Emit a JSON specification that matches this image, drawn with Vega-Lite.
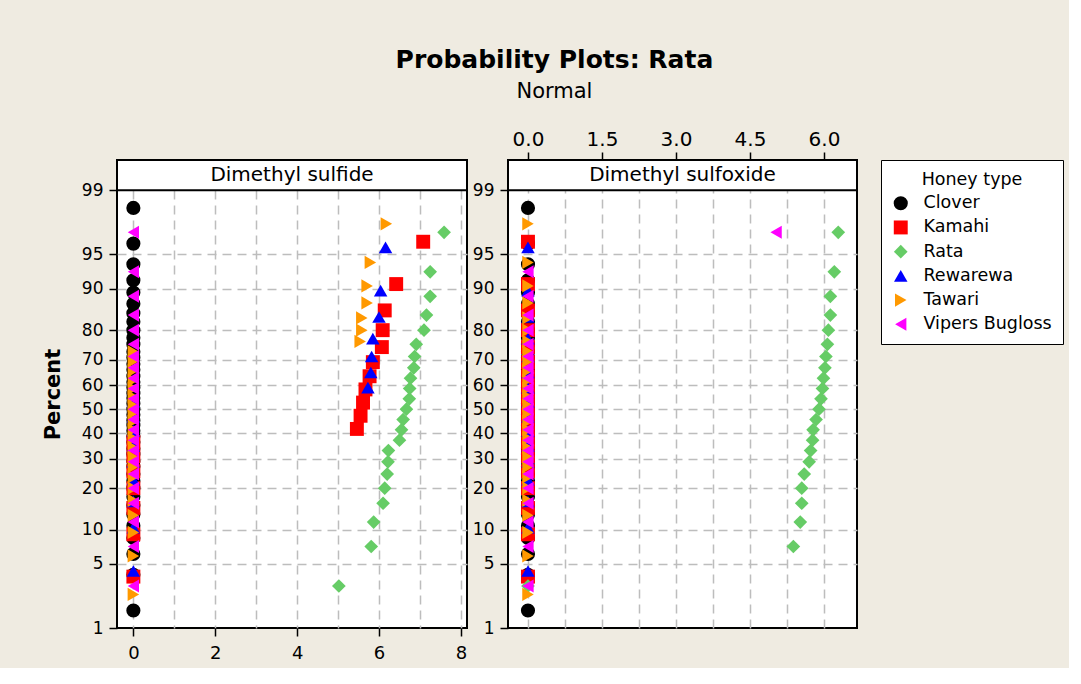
{
  "$schema": "https://vega.github.io/schema/vega-lite/v6.json",
  "background": "#EFEBE1",
  "padding": {"left": 41, "top": 48, "right": 5, "bottom": 5},
  "title": {
    "text": "Probability Plots: Rata",
    "subtitle": "Normal",
    "anchor": "middle",
    "dx": 2,
    "font": "DejaVu Sans",
    "fontSize": 25,
    "fontWeight": "bold",
    "color": "black",
    "subtitleFont": "DejaVu Sans",
    "subtitleFontSize": 21,
    "subtitleColor": "black",
    "subtitlePadding": 8,
    "offset": 26
  },
  "datasets": {
    "dms": [
      {"h":"Clover","v":0,"z":-2.14},{"h":"Clover","v":0,"z":-1.76},{"h":"Clover","v":0,"z":-1.54},{"h":"Clover","v":0,"z":-1.37},{"h":"Clover","v":0,"z":-1.24},{"h":"Clover","v":0,"z":-1.12},{"h":"Clover","v":0,"z":-1.02},{"h":"Clover","v":0,"z":-0.93},{"h":"Clover","v":0,"z":-0.84},{"h":"Clover","v":0,"z":-0.76},{"h":"Clover","v":0,"z":-0.69},{"h":"Clover","v":0,"z":-0.61},{"h":"Clover","v":0,"z":-0.55},{"h":"Clover","v":0,"z":-0.48},{"h":"Clover","v":0,"z":-0.42},{"h":"Clover","v":0,"z":-0.35},{"h":"Clover","v":0,"z":-0.29},{"h":"Clover","v":0,"z":-0.23},{"h":"Clover","v":0,"z":-0.17},{"h":"Clover","v":0,"z":-0.12},{"h":"Clover","v":0,"z":-0.06},{"h":"Clover","v":0,"z":0},{"h":"Clover","v":0,"z":0.06},{"h":"Clover","v":0,"z":0.12},{"h":"Clover","v":0,"z":0.17},{"h":"Clover","v":0,"z":0.23},{"h":"Clover","v":0,"z":0.29},{"h":"Clover","v":0,"z":0.35},{"h":"Clover","v":0,"z":0.42},{"h":"Clover","v":0,"z":0.48},{"h":"Clover","v":0,"z":0.55},{"h":"Clover","v":0,"z":0.61},{"h":"Clover","v":0,"z":0.69},{"h":"Clover","v":0,"z":0.76},{"h":"Clover","v":0,"z":0.84},{"h":"Clover","v":0,"z":0.93},{"h":"Clover","v":0,"z":1.02},{"h":"Clover","v":0,"z":1.12},{"h":"Clover","v":0,"z":1.24},{"h":"Clover","v":0,"z":1.37},{"h":"Clover","v":0,"z":1.54},{"h":"Clover","v":0,"z":1.76},{"h":"Clover","v":0,"z":2.14},
      {"h":"Kamahi","v":0,"z":-1.78},{"h":"Kamahi","v":0,"z":-1.33},{"h":"Kamahi","v":0,"z":-1.05},{"h":"Kamahi","v":0,"z":-0.84},{"h":"Kamahi","v":0,"z":-0.66},{"h":"Kamahi","v":0,"z":-0.5},{"h":"Kamahi","v":0,"z":-0.35},{"h":"Kamahi","v":5.46,"z":-0.21},{"h":"Kamahi","v":5.55,"z":-0.07},{"h":"Kamahi","v":5.61,"z":0.07},{"h":"Kamahi","v":5.67,"z":0.21},{"h":"Kamahi","v":5.77,"z":0.35},{"h":"Kamahi","v":5.85,"z":0.5},{"h":"Kamahi","v":6.07,"z":0.66},{"h":"Kamahi","v":6.09,"z":0.84},{"h":"Kamahi","v":6.14,"z":1.05},{"h":"Kamahi","v":6.42,"z":1.33},{"h":"Kamahi","v":7.08,"z":1.78},
      {"h":"Rata","v":5.02,"z":-1.88},{"h":"Rata","v":5.81,"z":-1.46},{"h":"Rata","v":5.87,"z":-1.2},{"h":"Rata","v":6.1,"z":-1.0},{"h":"Rata","v":6.14,"z":-0.84},{"h":"Rata","v":6.2,"z":-0.69},{"h":"Rata","v":6.22,"z":-0.56},{"h":"Rata","v":6.23,"z":-0.44},{"h":"Rata","v":6.5,"z":-0.33},{"h":"Rata","v":6.55,"z":-0.22},{"h":"Rata","v":6.59,"z":-0.11},{"h":"Rata","v":6.67,"z":0},{"h":"Rata","v":6.74,"z":0.11},{"h":"Rata","v":6.75,"z":0.22},{"h":"Rata","v":6.77,"z":0.33},{"h":"Rata","v":6.85,"z":0.44},{"h":"Rata","v":6.87,"z":0.56},{"h":"Rata","v":6.91,"z":0.69},{"h":"Rata","v":7.1,"z":0.84},{"h":"Rata","v":7.16,"z":1.0},{"h":"Rata","v":7.25,"z":1.2},{"h":"Rata","v":7.25,"z":1.46},{"h":"Rata","v":7.59,"z":1.88},
      {"h":"Rewarewa","v":0,"z":-1.72},{"h":"Rewarewa","v":0,"z":-1.26},{"h":"Rewarewa","v":0,"z":-0.98},{"h":"Rewarewa","v":0,"z":-0.75},{"h":"Rewarewa","v":0,"z":-0.56},{"h":"Rewarewa","v":0,"z":-0.39},{"h":"Rewarewa","v":0,"z":-0.23},{"h":"Rewarewa","v":0,"z":-0.08},{"h":"Rewarewa","v":0,"z":0.08},{"h":"Rewarewa","v":5.73,"z":0.23},{"h":"Rewarewa","v":5.8,"z":0.39},{"h":"Rewarewa","v":5.82,"z":0.56},{"h":"Rewarewa","v":5.85,"z":0.75},{"h":"Rewarewa","v":6.0,"z":0.98},{"h":"Rewarewa","v":6.04,"z":1.26},{"h":"Rewarewa","v":6.16,"z":1.72},
      {"h":"Tawari","v":0,"z":-1.97},{"h":"Tawari","v":0,"z":-1.56},{"h":"Tawari","v":0,"z":-1.31},{"h":"Tawari","v":0,"z":-1.13},{"h":"Tawari","v":0,"z":-0.97},{"h":"Tawari","v":0,"z":-0.84},{"h":"Tawari","v":0,"z":-0.72},{"h":"Tawari","v":0,"z":-0.61},{"h":"Tawari","v":0,"z":-0.51},{"h":"Tawari","v":0,"z":-0.41},{"h":"Tawari","v":0,"z":-0.31},{"h":"Tawari","v":0,"z":-0.22},{"h":"Tawari","v":0,"z":-0.13},{"h":"Tawari","v":0,"z":-0.04},{"h":"Tawari","v":0,"z":0.04},{"h":"Tawari","v":0,"z":0.13},{"h":"Tawari","v":0,"z":0.22},{"h":"Tawari","v":0,"z":0.31},{"h":"Tawari","v":0,"z":0.41},{"h":"Tawari","v":0,"z":0.51},{"h":"Tawari","v":0,"z":0.61},{"h":"Tawari","v":5.54,"z":0.72},{"h":"Tawari","v":5.58,"z":0.84},{"h":"Tawari","v":5.58,"z":0.97},{"h":"Tawari","v":5.71,"z":1.13},{"h":"Tawari","v":5.71,"z":1.31},{"h":"Tawari","v":5.79,"z":1.56},{"h":"Tawari","v":6.18,"z":1.97},
      {"h":"Vipers Bugloss","v":0,"z":-1.88},{"h":"Vipers Bugloss","v":0,"z":-1.46},{"h":"Vipers Bugloss","v":0,"z":-1.2},{"h":"Vipers Bugloss","v":0,"z":-1.0},{"h":"Vipers Bugloss","v":0,"z":-0.84},{"h":"Vipers Bugloss","v":0,"z":-0.69},{"h":"Vipers Bugloss","v":0,"z":-0.56},{"h":"Vipers Bugloss","v":0,"z":-0.44},{"h":"Vipers Bugloss","v":0,"z":-0.33},{"h":"Vipers Bugloss","v":0,"z":-0.22},{"h":"Vipers Bugloss","v":0,"z":-0.11},{"h":"Vipers Bugloss","v":0,"z":0},{"h":"Vipers Bugloss","v":0,"z":0.11},{"h":"Vipers Bugloss","v":0,"z":0.22},{"h":"Vipers Bugloss","v":0,"z":0.33},{"h":"Vipers Bugloss","v":0,"z":0.44},{"h":"Vipers Bugloss","v":0,"z":0.56},{"h":"Vipers Bugloss","v":0,"z":0.69},{"h":"Vipers Bugloss","v":0,"z":0.84},{"h":"Vipers Bugloss","v":0,"z":1.0},{"h":"Vipers Bugloss","v":0,"z":1.2},{"h":"Vipers Bugloss","v":0,"z":1.46},{"h":"Vipers Bugloss","v":0,"z":1.88}
    ],
    "dmso": [
      {"h":"Clover","v":0,"z":-2.14},{"h":"Clover","v":0,"z":-1.76},{"h":"Clover","v":0,"z":-1.54},{"h":"Clover","v":0,"z":-1.37},{"h":"Clover","v":0,"z":-1.24},{"h":"Clover","v":0,"z":-1.12},{"h":"Clover","v":0,"z":-1.02},{"h":"Clover","v":0,"z":-0.93},{"h":"Clover","v":0,"z":-0.84},{"h":"Clover","v":0,"z":-0.76},{"h":"Clover","v":0,"z":-0.69},{"h":"Clover","v":0,"z":-0.61},{"h":"Clover","v":0,"z":-0.55},{"h":"Clover","v":0,"z":-0.48},{"h":"Clover","v":0,"z":-0.42},{"h":"Clover","v":0,"z":-0.35},{"h":"Clover","v":0,"z":-0.29},{"h":"Clover","v":0,"z":-0.23},{"h":"Clover","v":0,"z":-0.17},{"h":"Clover","v":0,"z":-0.12},{"h":"Clover","v":0,"z":-0.06},{"h":"Clover","v":0,"z":0},{"h":"Clover","v":0,"z":0.06},{"h":"Clover","v":0,"z":0.12},{"h":"Clover","v":0,"z":0.17},{"h":"Clover","v":0,"z":0.23},{"h":"Clover","v":0,"z":0.29},{"h":"Clover","v":0,"z":0.35},{"h":"Clover","v":0,"z":0.42},{"h":"Clover","v":0,"z":0.48},{"h":"Clover","v":0,"z":0.55},{"h":"Clover","v":0,"z":0.61},{"h":"Clover","v":0,"z":0.69},{"h":"Clover","v":0,"z":0.76},{"h":"Clover","v":0,"z":0.84},{"h":"Clover","v":0,"z":0.93},{"h":"Clover","v":0,"z":1.02},{"h":"Clover","v":0,"z":1.12},{"h":"Clover","v":0,"z":1.24},{"h":"Clover","v":0,"z":1.37},{"h":"Clover","v":0,"z":1.54},{"h":"Clover","v":0,"z":1.76},{"h":"Clover","v":0,"z":2.14},
      {"h":"Kamahi","v":0,"z":-1.78},{"h":"Kamahi","v":0,"z":-1.33},{"h":"Kamahi","v":0,"z":-1.05},{"h":"Kamahi","v":0,"z":-0.84},{"h":"Kamahi","v":0,"z":-0.66},{"h":"Kamahi","v":0,"z":-0.5},{"h":"Kamahi","v":0,"z":-0.35},{"h":"Kamahi","v":0,"z":-0.21},{"h":"Kamahi","v":0,"z":-0.07},{"h":"Kamahi","v":0,"z":0.07},{"h":"Kamahi","v":0,"z":0.21},{"h":"Kamahi","v":0,"z":0.35},{"h":"Kamahi","v":0,"z":0.5},{"h":"Kamahi","v":0,"z":0.66},{"h":"Kamahi","v":0,"z":0.84},{"h":"Kamahi","v":0,"z":1.05},{"h":"Kamahi","v":0,"z":1.33},{"h":"Kamahi","v":0,"z":1.78},
      {"h":"Rata","v":0,"z":-1.88},{"h":"Rata","v":5.38,"z":-1.46},{"h":"Rata","v":5.52,"z":-1.2},{"h":"Rata","v":5.55,"z":-1.0},{"h":"Rata","v":5.55,"z":-0.84},{"h":"Rata","v":5.6,"z":-0.69},{"h":"Rata","v":5.7,"z":-0.56},{"h":"Rata","v":5.73,"z":-0.44},{"h":"Rata","v":5.77,"z":-0.33},{"h":"Rata","v":5.78,"z":-0.22},{"h":"Rata","v":5.84,"z":-0.11},{"h":"Rata","v":5.9,"z":0},{"h":"Rata","v":5.94,"z":0.11},{"h":"Rata","v":5.97,"z":0.22},{"h":"Rata","v":5.99,"z":0.33},{"h":"Rata","v":6.02,"z":0.44},{"h":"Rata","v":6.04,"z":0.56},{"h":"Rata","v":6.07,"z":0.69},{"h":"Rata","v":6.09,"z":0.84},{"h":"Rata","v":6.13,"z":1.0},{"h":"Rata","v":6.13,"z":1.2},{"h":"Rata","v":6.21,"z":1.46},{"h":"Rata","v":6.29,"z":1.88},
      {"h":"Rewarewa","v":0,"z":-1.72},{"h":"Rewarewa","v":0,"z":-1.26},{"h":"Rewarewa","v":0,"z":-0.98},{"h":"Rewarewa","v":0,"z":-0.75},{"h":"Rewarewa","v":0,"z":-0.56},{"h":"Rewarewa","v":0,"z":-0.39},{"h":"Rewarewa","v":0,"z":-0.23},{"h":"Rewarewa","v":0,"z":-0.08},{"h":"Rewarewa","v":0,"z":0.08},{"h":"Rewarewa","v":0,"z":0.23},{"h":"Rewarewa","v":0,"z":0.39},{"h":"Rewarewa","v":0,"z":0.56},{"h":"Rewarewa","v":0,"z":0.75},{"h":"Rewarewa","v":0,"z":0.98},{"h":"Rewarewa","v":0,"z":1.26},{"h":"Rewarewa","v":0,"z":1.72},
      {"h":"Tawari","v":0,"z":-1.97},{"h":"Tawari","v":0,"z":-1.56},{"h":"Tawari","v":0,"z":-1.31},{"h":"Tawari","v":0,"z":-1.13},{"h":"Tawari","v":0,"z":-0.97},{"h":"Tawari","v":0,"z":-0.84},{"h":"Tawari","v":0,"z":-0.72},{"h":"Tawari","v":0,"z":-0.61},{"h":"Tawari","v":0,"z":-0.51},{"h":"Tawari","v":0,"z":-0.41},{"h":"Tawari","v":0,"z":-0.31},{"h":"Tawari","v":0,"z":-0.22},{"h":"Tawari","v":0,"z":-0.13},{"h":"Tawari","v":0,"z":-0.04},{"h":"Tawari","v":0,"z":0.04},{"h":"Tawari","v":0,"z":0.13},{"h":"Tawari","v":0,"z":0.22},{"h":"Tawari","v":0,"z":0.31},{"h":"Tawari","v":0,"z":0.41},{"h":"Tawari","v":0,"z":0.51},{"h":"Tawari","v":0,"z":0.61},{"h":"Tawari","v":0,"z":0.72},{"h":"Tawari","v":0,"z":0.84},{"h":"Tawari","v":0,"z":0.97},{"h":"Tawari","v":0,"z":1.13},{"h":"Tawari","v":0,"z":1.31},{"h":"Tawari","v":0,"z":1.56},{"h":"Tawari","v":0,"z":1.97},
      {"h":"Vipers Bugloss","v":0,"z":-1.88},{"h":"Vipers Bugloss","v":0,"z":-1.46},{"h":"Vipers Bugloss","v":0,"z":-1.2},{"h":"Vipers Bugloss","v":0,"z":-1.0},{"h":"Vipers Bugloss","v":0,"z":-0.84},{"h":"Vipers Bugloss","v":0,"z":-0.69},{"h":"Vipers Bugloss","v":0,"z":-0.56},{"h":"Vipers Bugloss","v":0,"z":-0.44},{"h":"Vipers Bugloss","v":0,"z":-0.33},{"h":"Vipers Bugloss","v":0,"z":-0.22},{"h":"Vipers Bugloss","v":0,"z":-0.11},{"h":"Vipers Bugloss","v":0,"z":0},{"h":"Vipers Bugloss","v":0,"z":0.11},{"h":"Vipers Bugloss","v":0,"z":0.22},{"h":"Vipers Bugloss","v":0,"z":0.33},{"h":"Vipers Bugloss","v":0,"z":0.44},{"h":"Vipers Bugloss","v":0,"z":0.56},{"h":"Vipers Bugloss","v":0,"z":0.69},{"h":"Vipers Bugloss","v":0,"z":0.84},{"h":"Vipers Bugloss","v":0,"z":1.0},{"h":"Vipers Bugloss","v":0,"z":1.2},{"h":"Vipers Bugloss","v":0,"z":1.46},{"h":"Vipers Bugloss","v":5.03,"z":1.88}
    ]
  },
  "bounds": "flush",
  "spacing": 41,
  "hconcat": [
    {
      "width": 350,
      "height": 468,
      "data": {"name": "dms"},
      "layer": [
        {
          "mark": {"type": "point", "filled": true, "opacity": 1, "strokeWidth": 0},
          "encoding": {
            "x": {"field": "v", "type": "quantitative",
              "scale": {"domain": [-0.4, 8.15], "nice": false, "zero": false},
              "axis": {"orient": "bottom", "values": [0,1,2,3,4,5,6,7,8], "tickCount": 30, "format": "d",
                "labelExpr": "datum.value % 2 == 0 ? datum.label : ''",
                "tickOpacity": {"condition": {"test": "datum.value % 2 == 1", "value": 0}, "value": 1},
                "labelFontSize": 18, "labelPadding": 8, "title": null, "grid": true,
                "labelOverlap": false, "labelFlush": false, "labelBound": false}},
            "y": {"field": "z", "type": "quantitative",
              "scale": {"domain": [-2.3263, 2.649], "nice": false, "zero": false},
              "axis": {"values": [-2.3263,-1.6449,-1.2816,-0.8416,-0.5244,-0.2533,0,0.2533,0.5244,0.8416,1.2816,1.6449,2.3263],
                "tickCount": 30,
                "labelExpr": "format(cumulativeNormal(datum.value)*100, '.0f')",
                "gridOpacity": {"condition": {"test": "abs(datum.value) > 2.3", "value": 0}, "value": 1},
                "labelFontSize": 17, "labelPadding": 6, "grid": true, "labelOverlap": false, "labelFlush": false,
                "title": "Percent", "titleFontSize": 21, "titleFontWeight": "bold", "titlePadding": 18}},
            "color": {"field": "h", "type": "nominal",
              "scale": {"domain": ["Clover","Kamahi","Rata","Rewarewa","Tawari","Vipers Bugloss"],
                        "range": ["#000000","#FF0000","#66CC66","#0000FF","#FF9900","#FF00FF"]},
              "legend": {"title": "Honey type", "orient": "none", "legendX": 764, "legendY": 0,
                "fillColor": "white", "strokeColor": "black", "padding": 11,
                "titleFontSize": 17.5, "labelFontSize": 17.5, "titleFontWeight": "normal", "titleAnchor": "middle",
                "symbolSize": 200, "rowPadding": 5.2, "titlePadding": 6, "labelOffset": 14, "labelLimit": 300,
                "symbolStrokeWidth": 0, "symbolOpacity": 1}},
            "shape": {"field": "h", "type": "nominal",
              "scale": {"domain": ["Clover","Kamahi","Rata","Rewarewa","Tawari","Vipers Bugloss"],
                        "range": ["circle","square","diamond","triangle-up","triangle-right","triangle-left"]},
              "legend": {"title": "Honey type", "orient": "none", "legendX": 764, "legendY": 0,
                "fillColor": "white", "strokeColor": "black", "padding": 11,
                "titleFontSize": 17.5, "labelFontSize": 17.5, "titleFontWeight": "normal", "titleAnchor": "middle",
                "symbolSize": 200, "rowPadding": 5.2, "titlePadding": 6, "labelOffset": 14, "labelLimit": 300,
                "symbolStrokeWidth": 0, "symbolOpacity": 1}},
            "size": {"field": "h", "type": "nominal",
              "scale": {"domain": ["Clover","Kamahi","Rata","Rewarewa","Tawari","Vipers Bugloss"],
                        "range": [200, 170, 230, 270, 230, 230]},
              "legend": null}
          }
        },
        {
          "data": {"values": [{"panel": "Dimethyl sulfide"}]},
          "mark": {"type": "rect", "fill": "white", "stroke": "black", "strokeWidth": 2},
          "encoding": {"x": {"datum": -0.4}, "x2": {"datum": 8.15}, "y": {"datum": 2.3263}, "y2": {"datum": 2.649}}
        },
        {
          "data": {"values": [{"panel": "Dimethyl sulfide"}]},
          "mark": {"type": "text", "font": "DejaVu Sans", "fontSize": 20, "color": "black", "baseline": "middle", "align": "center"},
          "encoding": {"x": {"datum": 3.875}, "y": {"datum": 2.4877}, "text": {"field": "panel"}}
        }
      ]
    },
    {
      "width": 349,
      "height": 468,
      "data": {"name": "dmso"},
      "layer": [
        {
          "mark": {"type": "point", "filled": true, "opacity": 1, "strokeWidth": 0},
          "encoding": {
            "x": {"field": "v", "type": "quantitative",
              "scale": {"domain": [-0.405, 6.67], "nice": false, "zero": false},
              "axis": {"orient": "top", "values": [0,0.75,1.5,2.25,3,3.75,4.5,5.25,6], "tickCount": 30, "format": ".1f",
                "labelExpr": "round(datum.value/0.75) % 2 == 0 ? datum.label : ''",
                "tickOpacity": {"condition": {"test": "round(datum.value/0.75) % 2 == 1", "value": 0}, "value": 1},
                "labelFontSize": 20, "labelPadding": 3, "title": null, "grid": true,
                "labelOverlap": false, "labelFlush": false, "labelBound": false}},
            "y": {"field": "z", "type": "quantitative",
              "scale": {"domain": [-2.3263, 2.649], "nice": false, "zero": false},
              "axis": {"values": [-2.3263,-1.6449,-1.2816,-0.8416,-0.5244,-0.2533,0,0.2533,0.5244,0.8416,1.2816,1.6449,2.3263],
                "tickCount": 30,
                "labelExpr": "format(cumulativeNormal(datum.value)*100, '.0f')",
                "gridOpacity": {"condition": {"test": "abs(datum.value) > 2.3", "value": 0}, "value": 1},
                "labelFontSize": 17, "labelPadding": 6, "grid": true, "labelOverlap": false, "labelFlush": false,
                "title": null}},
            "color": {"field": "h", "type": "nominal",
              "scale": {"domain": ["Clover","Kamahi","Rata","Rewarewa","Tawari","Vipers Bugloss"],
                        "range": ["#000000","#FF0000","#66CC66","#0000FF","#FF9900","#FF00FF"]}},
            "shape": {"field": "h", "type": "nominal",
              "scale": {"domain": ["Clover","Kamahi","Rata","Rewarewa","Tawari","Vipers Bugloss"],
                        "range": ["circle","square","diamond","triangle-up","triangle-right","triangle-left"]}},
            "size": {"field": "h", "type": "nominal",
              "scale": {"domain": ["Clover","Kamahi","Rata","Rewarewa","Tawari","Vipers Bugloss"],
                        "range": [200, 170, 230, 270, 230, 230]},
              "legend": null}
          }
        },
        {
          "data": {"values": [{"panel": "Dimethyl sulfoxide"}]},
          "mark": {"type": "rect", "fill": "white", "stroke": "black", "strokeWidth": 2},
          "encoding": {"x": {"datum": -0.405}, "x2": {"datum": 6.67}, "y": {"datum": 2.3263}, "y2": {"datum": 2.649}}
        },
        {
          "data": {"values": [{"panel": "Dimethyl sulfoxide"}]},
          "mark": {"type": "text", "font": "DejaVu Sans", "fontSize": 20, "color": "black", "baseline": "middle", "align": "center"},
          "encoding": {"x": {"datum": 3.1325}, "y": {"datum": 2.4877}, "text": {"field": "panel"}}
        }
      ]
    }
  ],
  "config": {
    "view": {"stroke": "black", "strokeWidth": 2, "fill": "white"},
    "axis": {"labelFont": "DejaVu Sans", "labelColor": "black", "tickColor": "black", "tickWidth": 1.5, "tickSize": 8,
             "domain": false, "gridColor": "#BDBDBD", "gridDash": [9, 6], "gridWidth": 1.5,
             "titleFont": "DejaVu Sans", "titleColor": "black"},
    "legend": {"labelFont": "DejaVu Sans", "titleFont": "DejaVu Sans", "labelColor": "black", "titleColor": "black"}
  }
}
